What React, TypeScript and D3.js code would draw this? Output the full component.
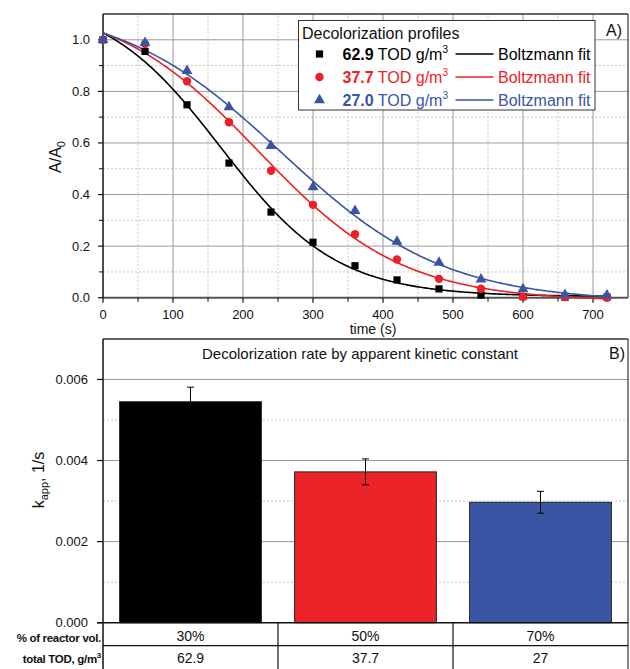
import React, { useEffect } from 'react'
import * as d3 from 'd3'

// time points (s) and measured A/A0 for the three loadings
const times = [0, 60, 120, 180, 240, 300, 360, 420, 480, 540, 600, 660, 720]
const tod629 = [1.0, 0.955, 0.748, 0.522, 0.332, 0.215, 0.124, 0.069, 0.034, 0.010, 0.004, 0.002, 0.002]
const tod377 = [1.0, 0.985, 0.839, 0.68, 0.492, 0.36, 0.246, 0.148, 0.073, 0.035, 0.004, 0.003, 0.0]
const tod270 = [1.0, 0.988, 0.88, 0.739, 0.589, 0.429, 0.337, 0.218, 0.136, 0.071, 0.033, 0.011, 0.009]

const legendValues = ['62.9', '37.7', '27.0']
const seriesColors = ['#000000', '#ed2125', '#3a54a4']
const markerShapes = [d3.symbolSquare, d3.symbolCircle, d3.symbolTriangle]
const markerSizes = [52, 56, 52]

// bar panel
const reactorVol = ['30%', '50%', '70%']
const totalTod = ['62.9', '37.7', '27']
const kapp = [0.00545, 0.00372, 0.00297]
const kappErr = [0.00036, 0.00032, 0.00027]
const barColors = ['#000000', '#ed2427', '#3b55a5']

const xTicks = [0, 100, 200, 300, 400, 500, 600, 700]
const yTicksTop = [0, 0.2, 0.4, 0.6, 0.8, 1.0]
const yTicksBottom = [0, 0.002, 0.004, 0.006]

const FONT = '"Liberation Sans", Arial, sans-serif'

// Boltzmann: y = A2 + (A1 - A2) / (1 + exp((x - x0) / dx))
const boltz = (p: number[], x: number) => p[1] + (p[0] - p[1]) / (1 + Math.exp((x - p[2]) / p[3]))

function nelderMead(f: (p: number[]) => number, start: number[], steps: number[], iters = 3000) {
  const n = start.length
  let simplex = [start.slice()]
  for (let i = 0; i < n; i++) {
    const p = start.slice()
    p[i] += steps[i]
    simplex.push(p)
  }
  let vals = simplex.map(f)
  for (let k = 0; k < iters; k++) {
    const order = d3.range(n + 1).sort((a, b) => vals[a] - vals[b])
    simplex = order.map(i => simplex[i])
    vals = order.map(i => vals[i])
    const c = d3.range(n).map(j => d3.mean(simplex.slice(0, n), p => p[j]) as number)
    const w = simplex[n]
    const pt = (t: number) => c.map((cj, j) => cj + t * (w[j] - cj))
    const xr = pt(-1)
    const fr = f(xr)
    if (fr < vals[0]) {
      const xe = pt(-2)
      const fe = f(xe)
      if (fe < fr) { simplex[n] = xe; vals[n] = fe } else { simplex[n] = xr; vals[n] = fr }
    } else if (fr < vals[n - 1]) {
      simplex[n] = xr; vals[n] = fr
    } else {
      const xc = fr < vals[n] ? pt(-0.5) : pt(0.5)
      const fc = f(xc)
      if (fc < Math.min(fr, vals[n])) {
        simplex[n] = xc; vals[n] = fc
      } else {
        for (let i = 1; i <= n; i++) {
          simplex[i] = simplex[i].map((v, j) => simplex[0][j] + 0.5 * (v - simplex[0][j]))
          vals[i] = f(simplex[i])
        }
      }
    }
  }
  return simplex[0]
}

function fitBoltzmann(ys: number[]) {
  const sse = (p: number[]) => p[3] <= 1 ? 1e9 : d3.sum(times, (t, i) => (ys[i] - boltz(p, t)) ** 2)
  return nelderMead(sse, [1.05, 0, 200, 70], [0.05, 0.02, 30, 15])
}

export default function App() {
  useEffect(() => { document.body.style.margin = '0' }, [])

  const W = 630, H = 669
  const left = 103, right = 628

  // ---------- top panel ----------
  const x = d3.scaleLinear().domain([0, 750]).range([left, right])
  const y = d3.scaleLinear().domain([0, 1.1]).range([297.7, 14])

  const series = [tod629, tod377, tod270]
  const fits = series.map(fitBoltzmann)
  const fitX = d3.range(0, 720.5, 2)
  const line = (p: number[]) => d3.line<number>().x(t => x(t)).y(t => y(boltz(p, t)))(fitX) as string

  const xMinor = d3.range(50, 750, 100)
  const yMinor = d3.range(0.1, 1.1, 0.2)

  // ---------- bottom panel ----------
  const xb = d3.scaleBand<string>().domain(reactorVol).range([left, right]).paddingInner(0.19).paddingOuter(0.095)
  const yb = d3.scaleLinear().domain([0, 0.007]).range([622.7, 338.9])
  const ybMinor = [0.001, 0.003, 0.005]
  const step = xb.step()
  const rowY = [622.7, 645.7, 669]

  const gridMajor = '#9a9a9a'
  const gridMinor = '#c4c4c4'

  return (
    <svg width={W} height={H} style={{ display: 'block', fontFamily: FONT }}>
      <rect width={W} height={H} fill="#fff" />

      {/* ===== Panel A ===== */}
      <g>
        {xMinor.map(v => (
          <line key={'xm' + v} x1={x(v)} x2={x(v)} y1={y(0)} y2={y(1.1)} stroke={gridMinor} strokeDasharray="2,2" />
        ))}
        {yMinor.map(v => (
          <line key={'ym' + v} x1={left} x2={right} y1={y(v)} y2={y(v)} stroke={gridMinor} strokeDasharray="2,2" />
        ))}
        {xTicks.slice(1).map(v => (
          <line key={'xg' + v} x1={x(v)} x2={x(v)} y1={y(0)} y2={y(1.1)} stroke={gridMajor} />
        ))}
        {yTicksTop.slice(1).map(v => (
          <line key={'yg' + v} x1={left} x2={right} y1={y(v)} y2={y(v)} stroke={gridMajor} />
        ))}

        {/* frame */}
        <line x1={left} x2={right} y1={y(1.1)} y2={y(1.1)} stroke="#333" strokeWidth={1.5} />
        <line x1={right} x2={right} y1={y(1.1)} y2={y(0)} stroke="#333" strokeWidth={1.2} />
        <line x1={left} x2={right} y1={y(0)} y2={y(0)} stroke="#555" strokeWidth={2} />
        <line x1={left} x2={left} y1={y(1.1)} y2={y(0)} stroke="#111" strokeWidth={1.5} />

        {/* x ticks */}
        {xTicks.map(v => (
          <g key={'xt' + v}>
            <line x1={x(v)} x2={x(v)} y1={y(0)} y2={y(0) + 5} stroke="#111" strokeWidth={1.2} />
            <text x={x(v)} y={319} textAnchor="middle" fontSize={13} fill="#111">{v}</text>
          </g>
        ))}
        {xMinor.map(v => (
          <line key={'xmt' + v} x1={x(v)} x2={x(v)} y1={y(0)} y2={y(0) + 4} stroke="#111" strokeWidth={1} />
        ))}
        <text x={373} y={334} textAnchor="middle" fontSize={14} fill="#111">time (s)</text>

        {/* y ticks */}
        {yTicksTop.map(v => (
          <g key={'yt' + v}>
            <line x1={left - 5} x2={left} y1={y(v)} y2={y(v)} stroke="#111" strokeWidth={1.2} />
            <text x={90} y={y(v) + 4.5} textAnchor="end" fontSize={13} fill="#111">{v.toFixed(1)}</text>
          </g>
        ))}
        {yMinor.map(v => (
          <line key={'ymt' + v} x1={left - 4} x2={left} y1={y(v)} y2={y(v)} stroke="#111" strokeWidth={1} />
        ))}
        <text transform="translate(61,157) rotate(-90)" textAnchor="middle" fontSize={16} fill="#111">
          A/A<tspan fontSize={11} dy={4}>0</tspan>
        </text>

        {/* fit curves */}
        {fits.map((p, i) => (
          <path key={'fit' + i} d={line(p)} fill="none" stroke={seriesColors[i]} strokeWidth={1.6} />
        ))}
        {/* markers */}
        {series.map((s, i) =>
          s.map((v, j) => (
            <path
              key={'m' + i + '-' + j}
              d={d3.symbol(markerShapes[i], markerSizes[i])() as string}
              transform={`translate(${x(times[j])},${y(v)})`}
              fill={seriesColors[i]}
            />
          ))
        )}

        <text x={606} y={36} fontSize={16} fill="#111">A)</text>

        {/* legend */}
        <rect x={298.5} y={20.5} width={296.5} height={89.5} fill="#fff" stroke="#333" strokeWidth={1} />
        <text x={302} y={38.5} fontSize={16} fill="#111">Decolorization profiles</text>
        {legendValues.map((lv, i) => {
          const cy = 54 + i * 23
          return (
            <g key={'lg' + i} fill={seriesColors[i]}>
              <path d={d3.symbol(markerShapes[i], markerSizes[i])() as string} transform={`translate(319.5,${cy})`} />
              <text x={342.5} y={cy + 6} fontSize={16}>
                <tspan fontWeight="bold">{lv}</tspan> TOD g/m<tspan fontSize={10} dy={-7}>3</tspan>
              </text>
              <line x1={455.5} x2={493.5} y1={cy} y2={cy} stroke={seriesColors[i]} strokeWidth={1.6} />
              <text x={498} y={cy + 6} fontSize={16}>Boltzmann fit</text>
            </g>
          )
        })}
      </g>

      {/* ===== Panel B ===== */}
      <g>
        {ybMinor.map(v => (
          <line key={'bym' + v} x1={left} x2={right} y1={yb(v)} y2={yb(v)} stroke={gridMinor} strokeDasharray="2,2" />
        ))}
        {yTicksBottom.slice(1).map(v => (
          <line key={'byg' + v} x1={left} x2={right} y1={yb(v)} y2={yb(v)} stroke={gridMajor} />
        ))}

        {reactorVol.map((c, i) => (
          <rect
            key={'bar' + i}
            x={xb(c)}
            y={yb(kapp[i])}
            width={xb.bandwidth()}
            height={yb(0) - yb(kapp[i])}
            fill={barColors[i]}
            stroke="#222"
            strokeWidth={1}
          />
        ))}
        {reactorVol.map((c, i) => {
          const cx = (xb(c) as number) + xb.bandwidth() / 2
          const y1 = yb(kapp[i] + kappErr[i])
          const y2 = yb(kapp[i] - kappErr[i])
          return (
            <g key={'err' + i} stroke="#000" strokeWidth={1}>
              <line x1={cx} x2={cx} y1={y1} y2={y2} />
              <line x1={cx - 3.5} x2={cx + 3.5} y1={y1} y2={y1} />
              <line x1={cx - 3.5} x2={cx + 3.5} y1={y2} y2={y2} />
            </g>
          )
        })}

        {/* frame */}
        <line x1={left} x2={right} y1={yb(0.007)} y2={yb(0.007)} stroke="#333" strokeWidth={1.5} />
        <line x1={right} x2={right} y1={yb(0.007)} y2={H} stroke="#333" strokeWidth={1.2} />
        <line x1={left} x2={left} y1={yb(0.007)} y2={H} stroke="#111" strokeWidth={1.5} />

        {yTicksBottom.map(v => (
          <g key={'byt' + v}>
            <line x1={left - 6} x2={left} y1={yb(v)} y2={yb(v)} stroke="#111" strokeWidth={1.2} />
            <text x={88} y={yb(v) + 4.5} textAnchor="end" fontSize={13} fill="#111">{v.toFixed(3)}</text>
          </g>
        ))}
        <text transform="translate(44,480) rotate(-90)" textAnchor="middle" fontSize={16} fill="#111">
          k<tspan fontSize={11} dy={4}>app</tspan><tspan dy={-4}>, 1/s</tspan>
        </text>

        <text x={360} y={359} textAnchor="middle" fontSize={15} fill="#111">
          Decolorization rate by apparent kinetic constant
        </text>
        <text x={609} y={359} fontSize={16} fill="#111">B)</text>

        {/* table below the bars */}
        <line x1={left - 6} x2={right} y1={rowY[0]} y2={rowY[0]} stroke="#111" strokeWidth={1.5} />
        <line x1={left} x2={right} y1={rowY[1]} y2={rowY[1]} stroke="#111" strokeWidth={1.2} />
        {[1, 2].map(k => (
          <line key={'tv' + k} x1={left + k * step} x2={left + k * step} y1={rowY[0]} y2={rowY[2]} stroke="#111" strokeWidth={1.2} />
        ))}
        {reactorVol.map((c, i) => {
          const cx = left + (i + 0.5) * step
          return (
            <g key={'tb' + i} fontSize={14} fill="#111" textAnchor="middle">
              <text x={cx} y={641}>{c}</text>
              <text x={cx} y={663}>{totalTod[i]}</text>
            </g>
          )
        })}
        <text x={101} y={642} textAnchor="end" fontSize={11.5} fontWeight="bold" fill="#111" letterSpacing={-0.3}>
          % of reactor vol.
        </text>
        <text x={101} y={663} textAnchor="end" fontSize={11.5} fontWeight="bold" fill="#111" letterSpacing={-0.3}>
          total TOD, g/m<tspan fontSize={8} dy={-5}>3</tspan>
        </text>
      </g>
    </svg>
  )
}
